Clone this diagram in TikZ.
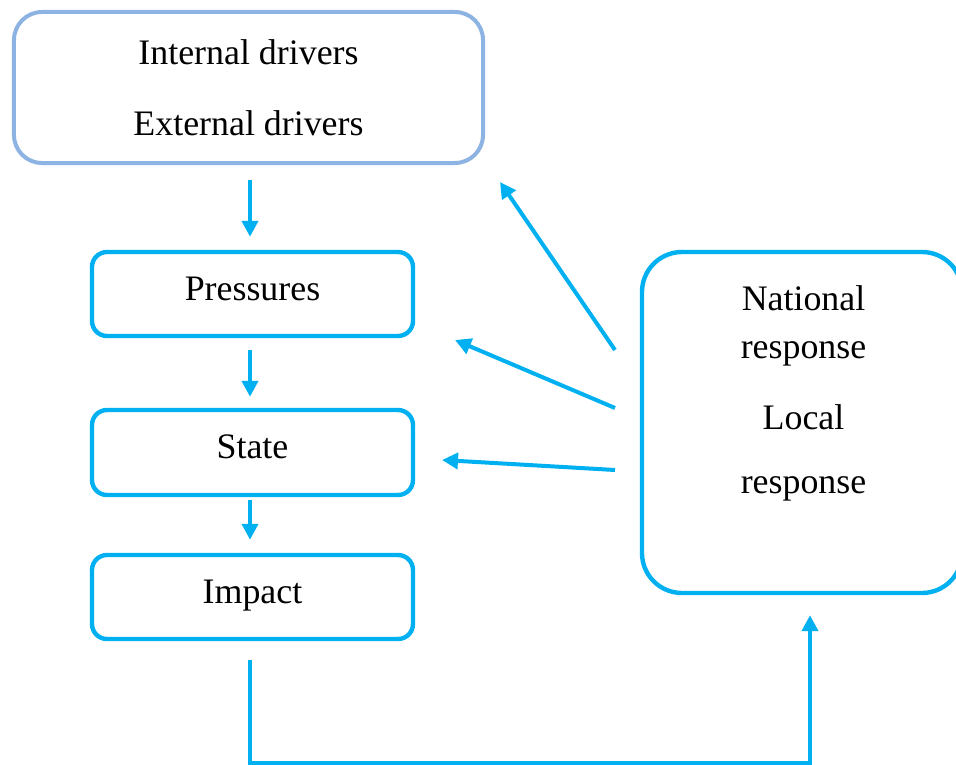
\documentclass[tikz,border=0pt]{standalone}
\usepackage{fontspec}
\setmainfont{Liberation Serif}
\usepackage{tikz}
\usepackage{xcolor}
\usetikzlibrary{arrows.meta, calc, positioning}

\definecolor{dpsir}{HTML}{00B0F0}
\definecolor{driver}{HTML}{8DB3E2}

\tikzset{
    box/.style={draw=dpsir, line width=2.2bp, rounded corners=7.5bp, minimum width=160.5bp, minimum height=42bp, text height=18bp, text depth=12bp},
    arr/.style={draw=dpsir, line width=2bp, -{Triangle[length=8bp, width=8bp]}}
}

\begin{document}
\begin{tikzpicture}[x=0.5bp, y=-0.5bp, font=\fontsize{18}{35.5}\selectfont]
                        \useasboundingbox (0, 0) rectangle (956, 765);

                        \node[draw=driver, line width=2bp, rounded corners=14bp, minimum width=234.5bp, minimum height=75.5bp, align=center] (drv) at (248.5, 87.5) {Internal drivers\\External drivers};
                        \node[box] (pres) at (252.5, 294) {Pressures};
                        \node[box, minimum height=42.5bp] (state) at (252.5, 452.5) {State};
                        \node[box] (imp) at (252.5, 597) {Impact};
                        \node[draw=dpsir, line width=2.2bp, rounded corners=20bp, minimum width=160bp, minimum height=170.5bp] (resp) at (802, 422.5) {};
                        \node[anchor=north, inner sep=0, align=center, font=\fontsize{18}{24.2}\selectfont] (resptxt) at (803.5, 285) {National\\response\\[11.6bp]Local\\[7.8bp]response};

                        \coordinate (a1) at (615, 350);
                        \coordinate (a2) at (615, 408);
                        \coordinate (a3) at (615, 470);
                        \coordinate (t1) at (500, 182);
                        \coordinate (t2) at (455, 340);
                        \coordinate (t3) at (442, 460);
                        \coordinate (fb) at (810, 763);

                        \draw[arr, shorten <=7.5bp, shorten >=6.5bp] ([xshift=0.75bp]drv.south) -- ([xshift=0.75bp]drv.south |- pres.north);
                        \draw[arr, shorten <=6bp, shorten >=5.5bp] ([xshift=-1.25bp]pres.south) -- ([xshift=-1.25bp]state.north);
                        \draw[arr, shorten <=1.5bp, shorten >=6.5bp] ([xshift=-1.25bp]state.south) -- ([xshift=-1.25bp]imp.north);

                        \draw[arr] (a1) -- (t1);
                        \draw[arr] (a2) -- (t2);
                        \draw[arr] (a3) -- (t3);

                        \draw[arr, shorten <=9.5bp, shorten >=10bp] ([xshift=-1.25bp]imp.south) |- (fb) -- (fb |- resp.south);
                    \end{tikzpicture}
\end{document}
